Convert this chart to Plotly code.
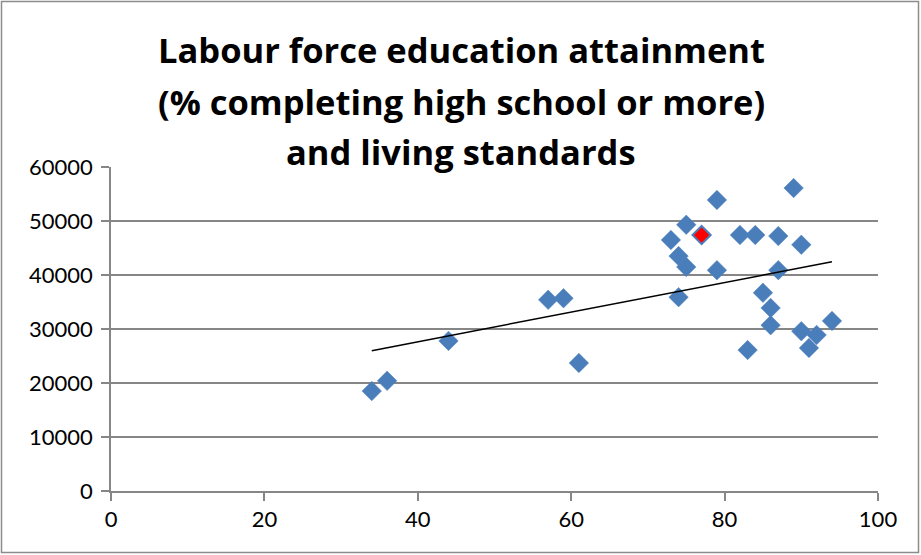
import numpy as np
import plotly.graph_objects as go

# % of labour force completing high school or more, and GDP per capita
attainment = [34, 36, 44, 57, 59, 61, 73, 74, 75, 75, 74, 79, 79, 82, 84, 87,
              87, 89, 90, 85, 86, 86, 83, 90, 92, 91, 94]
living_std = [18500, 20400, 27800, 35400, 35700, 23700, 46500, 43500, 41500,
              49300, 35900, 53900, 40900, 47400, 47400, 47200, 40900, 56100,
              45600, 36700, 33900, 30700, 26100, 29600, 28900, 26500, 31500]

# highlighted country
hl_attainment = [77]
hl_living_std = [47400]

title_lines = ["Labour force education attainment",
               "(% completing high school or more)",
               "and living standards"]

x_ticks = [0, 20, 40, 60, 80, 100]
y_ticks = [0, 10000, 20000, 30000, 40000, 50000, 60000]

# linear trend over all countries
all_x = np.array(attainment + hl_attainment, dtype=float)
all_y = np.array(living_std + hl_living_std, dtype=float)
slope, intercept = np.polyfit(all_x, all_y, 1)
trend_x = [all_x.min(), all_x.max()]
trend_y = [slope * v + intercept for v in trend_x]

BLUE = "#4A7EBB"
FONT = "Lato"
TITLE_FONT = "Open Sans"

fig = go.Figure()
fig.add_trace(go.Scatter(
    x=attainment, y=living_std, mode="markers",
    marker=dict(symbol="diamond", size=15, color=BLUE,
                line=dict(color="#4F81BD", width=0.5)),
    showlegend=False))
fig.add_trace(go.Scatter(
    x=hl_attainment, y=hl_living_std, mode="markers",
    marker=dict(symbol="diamond", size=14, color="#FF0000",
                line=dict(color=BLUE, width=2)),
    showlegend=False))
fig.add_trace(go.Scatter(
    x=trend_x, y=trend_y, mode="lines",
    line=dict(color="black", width=1.5), showlegend=False))

L, R, T, B = 111, 43, 167, 64
W, H = 921, 555
pw, ph = W - L - R, H - T - B

def px_x(p):
    return (p - L) / pw

def px_y(p):
    return (H - B - p) / ph

# title, one line per annotation
for i, (line, ypix) in enumerate(zip(title_lines, [50, 101, 151])):
    fig.add_annotation(text=f"<b>{line}</b>", xref="paper", yref="paper",
                       x=px_x(461), y=px_y(ypix), showarrow=False,
                       xanchor="center", yanchor="middle",
                       font=dict(family=TITLE_FONT, size=34.5, color="black"))

# outer chart border
fig.add_shape(type="rect", xref="paper", yref="paper",
              x0=px_x(1.5), x1=px_x(918.5), y0=px_y(552.5), y1=px_y(1.5),
              line=dict(color="#8C8C8C", width=1.5), layer="below")

fig.update_layout(
    width=W, height=H,
    margin=dict(l=L, r=R, t=T, b=B),
    paper_bgcolor="white", plot_bgcolor="white",
    font=dict(family=FONT, size=22, color="black"),
    xaxis=dict(range=[0, 100], tickvals=x_ticks, showgrid=False,
               showline=True, linecolor="#868686", linewidth=1.5,
               ticks="outside", ticklen=8, tickcolor="#868686", tickwidth=1.5,
               zeroline=False, fixedrange=True),
    yaxis=dict(range=[0, 60000], tickvals=y_ticks,
               ticktext=[str(v) for v in y_ticks], showgrid=True,
               gridcolor="#868686", gridwidth=1.5,
               showline=True, linecolor="#868686", linewidth=1.5,
               ticks="outside", ticklen=8, tickcolor="#868686", tickwidth=1.5,
               zeroline=False, fixedrange=True, ticklabelstandoff=4),
)

fig.write_html("out.html")
